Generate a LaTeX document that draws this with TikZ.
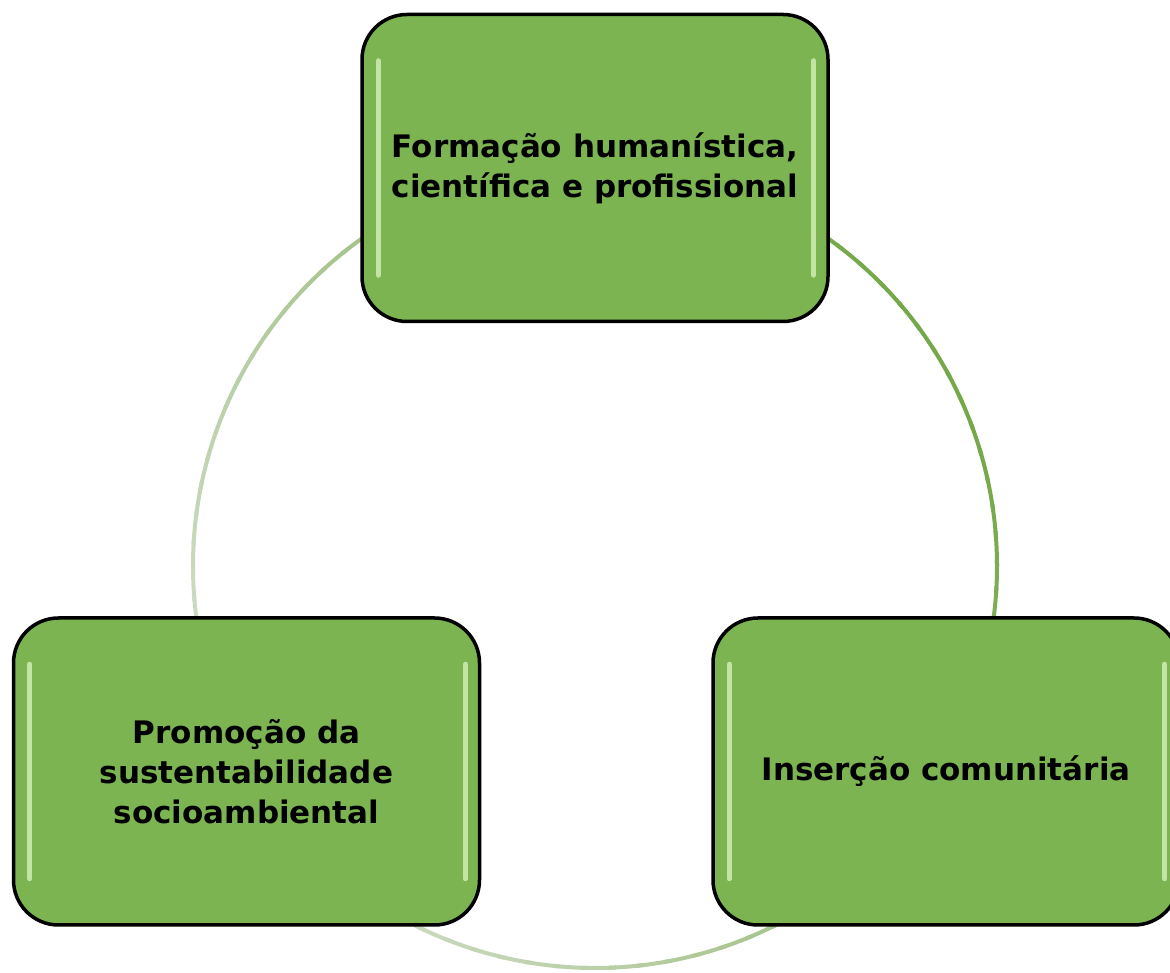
\documentclass[tikz,border=0pt]{standalone}
\usepackage{fontspec}
\setmainfont{DejaVu Sans}
\definecolor{boxgreen}{RGB}{124,180,82}
\definecolor{glossgreen}{RGB}{214,240,186}
\definecolor{ringdark}{RGB}{116,168,72}
\definecolor{ringlight}{RGB}{208,220,198}
\tikzset{pillar/.style={draw=black, line width=3.5pt, fill=boxgreen,
    rounded corners=45pt, minimum width=466pt, minimum height=307pt,
    align=center, inner sep=0pt,
    font=\bfseries\fontsize{31}{40}\selectfont},
  gloss/.style={glossgreen, line width=5pt, line cap=round, opacity=0.8},
  ring/.style={line width=4pt},
}

\begin{document}
\begin{tikzpicture}[x=1pt,y=1pt]
	\useasboundingbox (0,0) rectangle (1170,972);
	\coordinate (hub) at (595,406);
	% ring behind the boxes
	\foreach \a in {0,4,...,356}{
		\pgfmathsetmacro\t{50+50*cos(\a-30)}
		\draw[ring, color=ringdark!\t!ringlight]
			([shift={(\a:402pt)}]hub) arc[start angle=\a, end angle=\a+5, radius=402pt];
	}
	\node[pillar] (form) at (595,804) {Formação humanística,\\científica e profissional};
	\node[pillar] (prom) at (246.5,200.5) {Promoção da\\sustentabilidade\\socioambiental};
	\node[pillar] (ins) at (946,200.5) {Inserção comunitária};
	% glossy edges
	\foreach \n in {form,prom,ins}{
		\draw[gloss] ([xshift=18pt,yshift=-48pt]\n.north west) -- ([xshift=18pt,yshift=48pt]\n.south west);
		\draw[gloss] ([xshift=-16pt,yshift=-48pt]\n.north east) -- ([xshift=-16pt,yshift=48pt]\n.south east);
	}
\end{tikzpicture}
\end{document}
